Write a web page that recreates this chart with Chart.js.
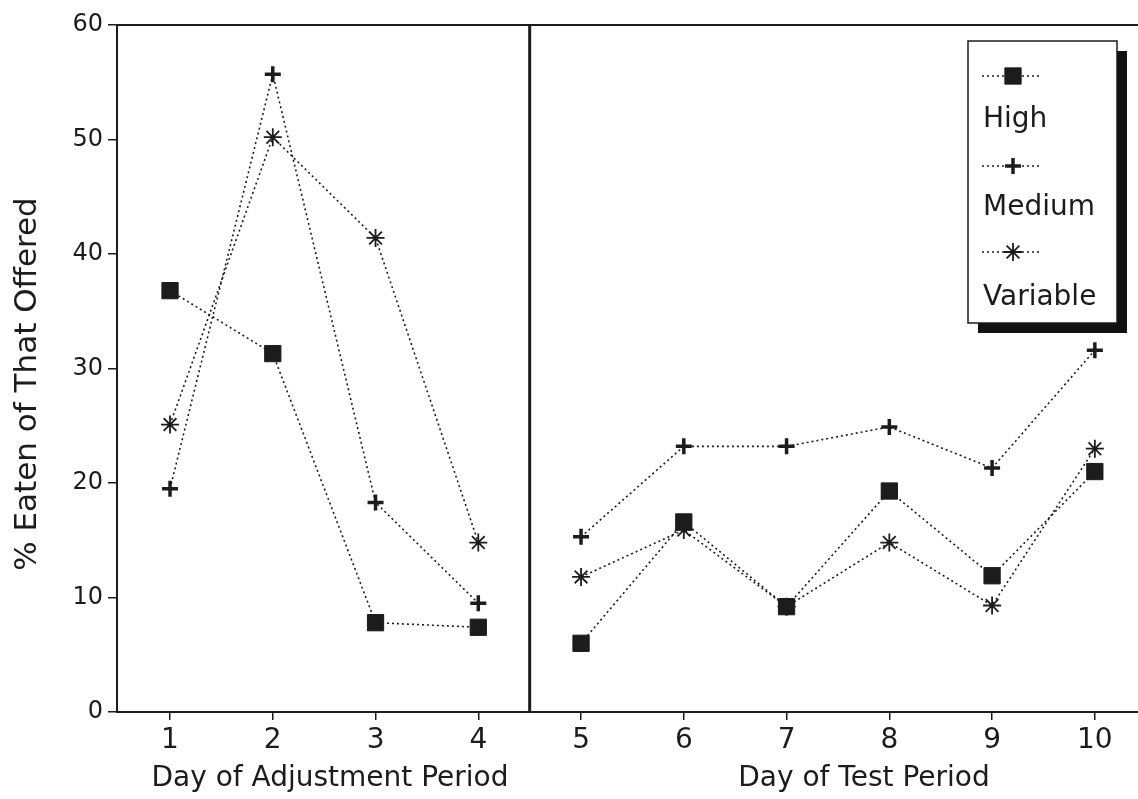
<!DOCTYPE html>
<html>
<head>
<meta charset="utf-8">
<title>% Eaten of That Offered</title>
<script src="https://cdn.jsdelivr.net/npm/chart.js@4.4.1/dist/chart.umd.min.js"></script>
<style>
  html, body { margin: 0; padding: 0; background: #fff; overflow: hidden; }
  canvas { display: block; }
</style>
</head>
<body>
<canvas id="chart" width="1138" height="799"></canvas>
<script>
// Data
const days = [1, 2, 3, 4, 5, 6, 7, 8, 9, 10];
const highValues = [36.8, 31.3, 7.8, 7.4, 6.0, 16.6, 9.2, 19.3, 11.9, 21.0];
const mediumValues = [19.5, 55.7, 18.3, 9.5, 15.3, 23.2, 23.2, 24.9, 21.3, 31.6];
const variableValues = [25.1, 50.2, 41.4, 14.8, 11.8, 15.9, 9.2, 14.8, 9.3, 23.0];
const yTicks = [0, 10, 20, 30, 40, 50, 60];
const seriesNames = ['High', 'Medium', 'Variable'];
const periodTitles = ['Day of Adjustment Period', 'Day of Test Period'];
const yTitle = '% Eaten of That Offered';

const FONT = '"DejaVu Sans", "Liberation Sans", Arial, sans-serif';
const INK = '#1c1c1c';

// no line between the last adjustment day and the first test day
const breakSegment = ctx => ctx.p0DataIndex === 3 ? 'rgba(0,0,0,0)' : INK;

function points(values) {
    return days.map((d, i) => ({ x: d, y: values[i] }));
}

function lineDataset(label, values, style, radius, width) {
    return {
        label: label,
        data: points(values),
        borderColor: INK,
        borderWidth: 1.6,
        borderDash: [2, 3],
        segment: { borderColor: breakSegment },
        pointStyle: style,
        pointRadius: radius,
        pointBackgroundColor: INK,
        pointBorderColor: INK,
        pointBorderWidth: width,
        fill: false,
        tension: 0
    };
}

const decorations = {
    id: 'decorations',
    afterDraw(chart) {
        const ctx = chart.ctx;
        const area = chart.chartArea;
        const xs = chart.scales.x;
        ctx.save();

        // top frame line
        ctx.strokeStyle = INK;
        ctx.lineWidth = 2;
        ctx.beginPath();
        ctx.moveTo(area.left, area.top);
        ctx.lineTo(area.right, area.top);
        ctx.stroke();

        // divider between the two periods
        const xd = xs.getPixelForValue(4.5);
        ctx.lineWidth = 3;
        ctx.beginPath();
        ctx.moveTo(xd, area.top);
        ctx.lineTo(xd, area.bottom);
        ctx.stroke();

        // axis titles
        ctx.fillStyle = INK;
        ctx.font = '28px ' + FONT;
        ctx.textAlign = 'center';
        ctx.textBaseline = 'alphabetic';
        ctx.fillText(periodTitles[0], 330, 786);
        ctx.fillText(periodTitles[1], 864, 786);

        ctx.save();
        ctx.translate(36, 384);
        ctx.rotate(-Math.PI / 2);
        ctx.font = '31px ' + FONT;
        ctx.fillText(yTitle, 0, 0);
        ctx.restore();

        // legend box with drop shadow
        const bx = 968, by = 41, bw = 149, bh = 282;
        ctx.fillStyle = '#111';
        ctx.fillRect(bx + 10, by + 10, bw, bh);
        ctx.fillStyle = '#fff';
        ctx.fillRect(bx, by, bw, bh);
        ctx.strokeStyle = INK;
        ctx.lineWidth = 1.5;
        ctx.strokeRect(bx, by, bw, bh);

        const symbolY = [76, 166, 252];
        const textY = [127, 215, 305];
        chart.data.datasets.forEach((ds, i) => {
            ctx.strokeStyle = INK;
            ctx.lineWidth = 1.5;
            ctx.setLineDash([2, 3]);
            ctx.beginPath();
            ctx.moveTo(982, symbolY[i]);
            ctx.lineTo(1042, symbolY[i]);
            ctx.stroke();
            ctx.setLineDash([]);

            ctx.fillStyle = INK;
            ctx.strokeStyle = INK;
            ctx.lineWidth = ds.pointBorderWidth;
            Chart.helpers.drawPoint(ctx, {
                pointStyle: ds.pointStyle,
                radius: ds.pointRadius,
                borderWidth: ds.pointBorderWidth,
                rotation: 0
            }, 1013, symbolY[i]);

            ctx.fillStyle = INK;
            ctx.font = '28px ' + FONT;
            ctx.textAlign = 'left';
            ctx.fillText(ds.label, 983, textY[i]);
        });

        ctx.restore();
    }
};

new Chart(document.getElementById('chart').getContext('2d'), {
    type: 'line',
    data: {
        datasets: [
            lineDataset(seriesNames[0], highValues, 'rect', 11.5, 1),
            lineDataset(seriesNames[1], mediumValues, 'cross', 8, 3.5),
            lineDataset(seriesNames[2], variableValues, 'star', 9, 1.8)
        ]
    },
    options: {
        responsive: false,
        animation: false,
        layout: { autoPadding: false, padding: { top: 25, left: 0, right: 0, bottom: 0 } },
        plugins: {
            legend: { display: false },
            tooltip: { enabled: false }
        },
        scales: {
            x: {
                type: 'linear',
                min: 0.484,
                max: 10.42,
                afterBuildTicks: s => { s.ticks = days.map(d => ({ value: d })); },
                afterFit: s => { s.height = 87; s.paddingLeft = 0; s.paddingRight = 0; },
                grid: { drawOnChartArea: false, drawTicks: true, tickLength: 8, color: INK, lineWidth: 1.5 },
                border: { display: true, color: INK, width: 2 },
                ticks: { font: { family: FONT, size: 28 }, color: INK, padding: 4, maxRotation: 0 }
            },
            y: {
                min: 0,
                max: 60,
                afterBuildTicks: s => { s.ticks = yTicks.map(v => ({ value: v })); },
                afterFit: s => { s.width = 117; },
                grid: { drawOnChartArea: false, drawTicks: true, tickLength: 9, color: INK, lineWidth: 1.5 },
                border: { display: true, color: INK, width: 2 },
                ticks: { font: { family: FONT, size: 24 }, color: INK, padding: 5 }
            }
        }
    },
    plugins: [decorations]
});
</script>
</body>
</html>
